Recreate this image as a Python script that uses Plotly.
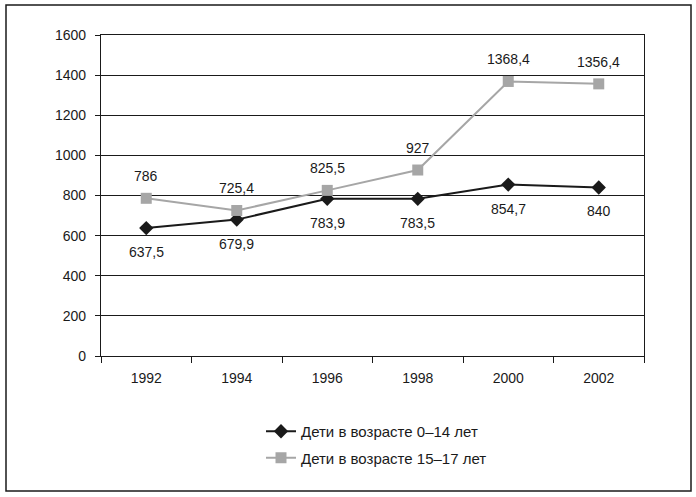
import plotly.graph_objects as go

years = ["1992", "1994", "1996", "1998", "2000", "2002"]
kids_0_14 = [637.5, 679.9, 783.9, 783.5, 854.7, 840]
kids_15_17 = [786, 725.4, 825.5, 927, 1368.4, 1356.4]
labels_0_14 = ["637,5", "679,9", "783,9", "783,5", "854,7", "840"]
labels_15_17 = ["786", "725,4", "825,5", "927", "1368,4", "1356,4"]
name_0_14 = "Дети в возрасте 0–14 лет"
name_15_17 = "Дети в возрасте 15–17 лет"

BLACK = "#1a1a1a"
GRAY = "#a6a6a6"
FONT = dict(family="Liberation Sans, Arial, sans-serif", size=14, color="#1a1a1a")
LEGEND_FONT = dict(family="Liberation Sans, Arial, sans-serif", size=15, color="#1a1a1a")

fig = go.Figure()
fig.add_trace(go.Scatter(
    x=years, y=kids_0_14, name=name_0_14, mode="lines+markers",
    line=dict(color=BLACK, width=2),
    marker=dict(symbol="diamond", size=11, color=BLACK),
    legendgroup="a",
))
fig.add_trace(go.Scatter(
    x=years, y=kids_15_17, name=name_15_17, mode="lines+markers",
    line=dict(color=GRAY, width=2),
    marker=dict(symbol="square", size=11, color=GRAY),
    legendgroup="b",
))

annotations = []
for i, (y, t) in enumerate(zip(kids_0_14, labels_0_14)):
    annotations.append(dict(x=i, y=y, xref="x", yref="y", text=t,
                            showarrow=False, yshift=-24, font=FONT))
for i, (y, t) in enumerate(zip(kids_15_17, labels_15_17)):
    annotations.append(dict(x=i, y=y, xref="x", yref="y", text=t,
                            showarrow=False, yshift=22, font=FONT))

# plot area: x 101..644, y 35..356 (pixels); outer frame 6..691, 5..491
L, R, T, B = 101, 644, 35, 356
W, H = R - L, B - T
fx0, fx1 = (6 - L) / W, (691 - L) / W
fy0, fy1 = (B - 491) / H, (B - 5) / H

fig.update_layout(
    width=696, height=497,
    margin=dict(l=L, r=696 - R, t=T, b=497 - B),
    paper_bgcolor="white", plot_bgcolor="white",
    font=FONT,
    showlegend=True,
    legend=dict(
        x=(261 - L) / W, y=(B - 415) / H, xanchor="left", yanchor="top",
        font=LEGEND_FONT, traceorder="grouped", tracegroupgap=4,
        bgcolor="rgba(0,0,0,0)",
    ),
    annotations=annotations,
    shapes=[dict(type="rect", xref="paper", yref="paper",
                 x0=fx0, x1=fx1, y0=fy0, y1=fy1,
                 line=dict(color=BLACK, width=1.5), layer="below")],
    xaxis=dict(
        type="category", range=[-0.5, 5.5],
        showline=True, linecolor=BLACK, linewidth=1.2, mirror=True,
        ticks="outside", tickson="boundaries", ticklen=6, tickcolor=BLACK, tickwidth=1.2,
        ticklabelstandoff=9,
        showgrid=False, tickfont=FONT, fixedrange=True,
    ),
    yaxis=dict(
        range=[0, 1600], dtick=200, tick0=0,
        showline=True, linecolor=BLACK, linewidth=1.2, mirror=True,
        ticks="outside", ticklen=5, tickcolor=BLACK, tickwidth=1.2,
        ticklabelstandoff=6,
        showgrid=True, gridcolor=BLACK, gridwidth=1,
        zeroline=False, tickfont=FONT, fixedrange=True,
    ),
)

fig.write_html("out.html", config={"displayModeBar": False},
               post_script="document.body.style.margin='0';")
